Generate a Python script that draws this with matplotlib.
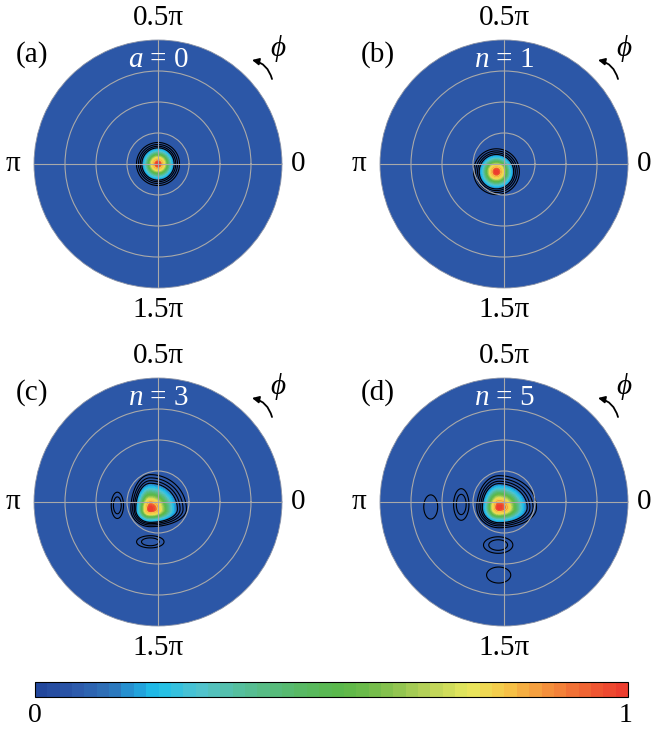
import numpy as np
import matplotlib
matplotlib.use('Agg')
import matplotlib.pyplot as plt
from matplotlib.colors import LinearSegmentedColormap, ListedColormap, BoundaryNorm
from matplotlib.patches import FancyArrowPatch
import matplotlib.colorbar as mcolorbar

plt.rcParams['font.family'] = ['Liberation Serif', 'DejaVu Serif']
plt.rcParams['mathtext.fontset'] = 'custom'
plt.rcParams['mathtext.rm'] = 'Liberation Serif'
plt.rcParams['mathtext.it'] = 'Liberation Serif:italic'

# intensity lobes per panel (disc radius = 1):
# x0, y0, sigma_left, sigma_right, sigma_down, sigma_up, amplitude
lobes_a = [[0.000, 0.000, 0.062, 0.062, 0.062, 0.062, 1.00]]
lobes_b = [[-0.061, -0.062, 0.066, 0.066, 0.066, 0.066, 1.00]]
lobes_c = [[-0.062, -0.059, 0.056, 0.104, 0.050, 0.100, 1.00],
           [-0.328, -0.027, 0.032, 0.032, 0.069, 0.069, 0.065],
           [-0.062, -0.321, 0.072, 0.072, 0.032, 0.032, 0.065]]
lobes_d = [[-0.040, -0.045, 0.064, 0.108, 0.058, 0.092, 1.00],
           [-0.345, -0.020, 0.040, 0.040, 0.083, 0.083, 0.065],
           [-0.591, -0.040, 0.053, 0.053, 0.092, 0.092, 0.035],
           [-0.047, -0.347, 0.077, 0.077, 0.043, 0.043, 0.065],
           [-0.043, -0.589, 0.092, 0.092, 0.061, 0.061, 0.035]]
panel_lobes = [lobes_a, lobes_b, lobes_c, lobes_d]
panel_tags = ['(a)', '(b)', '(c)', '(d)']
panel_titles = [r'$a$ = 0', r'$n$ = 1', r'$n$ = 3', r'$n$ = 5']
theta_labels = ['0', '0.5π', 'π', '1.5π']

# colour map (48 steps)
cmap_pos = [0.00, 0.06, 0.12, 0.16, 0.20, 0.27, 0.35, 0.45, 0.52, 0.58,
            0.66, 0.74, 0.80, 0.86, 0.93, 1.00]
cmap_col = ['#22479c', '#2d5aab', '#2e74ba', '#239bd8', '#1fc0ea', '#51c3cf',
            '#56be98', '#58b962', '#5ab848', '#78bd4c', '#b4d058', '#e9e85e',
            '#f6c647', '#f5993d', '#f06834', '#ed3d2e']
smooth = LinearSegmentedColormap.from_list('jet2', list(zip(cmap_pos, cmap_col)))
n_steps = 48
cmap = ListedColormap(smooth(np.linspace(0, 1, n_steps)))
bounds = np.linspace(0, 1, n_steps + 1)
norm = BoundaryNorm(bounds, n_steps)

bg = '#2c57a7'
grid_col = '#a9a9a9'

W, H = 653, 731
R = 124
centers = [(158, 164), (504, 164), (158, 502), (504, 502)]

fig = plt.figure(figsize=(W / 100, H / 100), dpi=100)


def fpt(px, py):
    return px / W, 1 - py / H


theta = np.linspace(0, 2 * np.pi, 721)
rad = np.linspace(0, 1, 600)
T, RR = np.meshgrid(theta, rad)
X = RR * np.cos(T)
Y = RR * np.sin(T)

for k, (cx, cy) in enumerate(centers):
    Z = np.zeros_like(X)
    for x0, y0, sl, sr, sd, su, amp in panel_lobes[k]:
        dx = X - x0
        dy = Y - y0
        sx = np.where(dx < 0, sl, sr)
        sy = np.where(dy < 0, sd, su)
        Z += amp * np.exp(-(dx ** 2 / (2 * sx ** 2) + dy ** 2 / (2 * sy ** 2)))
    Z = Z / Z.max()

    left, bottom = fpt(cx - R, cy + R)
    ax = fig.add_axes([left, bottom, 2 * R / W, 2 * R / H], projection='polar')
    ax.set_facecolor(bg)
    ax.contourf(T, RR, Z, levels=bounds[6:], cmap=cmap, norm=norm, zorder=1)
    ax.contour(T, RR, Z, levels=[0.02, 0.04, 0.07, 0.11], colors='k', linewidths=0.8, zorder=1.5)
    ax.contour(T, RR, Z, levels=[0.7, 0.78, 0.86], colors='#f3d64c', linewidths=0.6, zorder=1.5)
    ax.set_ylim(0, 1)
    ax.set_rticks([0.25, 0.5, 0.75])
    ax.set_yticklabels([])
    ax.set_thetagrids([0, 90, 180, 270], labels=['', '', '', ''])
    ax.grid(True, color=grid_col, linewidth=0.8)
    ax.spines['polar'].set_edgecolor('#8b93a6')
    ax.spines['polar'].set_linewidth(0.6)

    fs = 21
    fig.text(*fpt(cx + 140, cy), theta_labels[0], fontsize=fs, ha='center', va='center')
    fig.text(*fpt(cx, cy - 146), theta_labels[1], fontsize=fs, ha='center', va='center')
    fig.text(*fpt(cx - 145, cy), theta_labels[2], fontsize=fs, ha='center', va='center')
    fig.text(*fpt(cx, cy + 146), theta_labels[3], fontsize=fs, ha='center', va='center')
    fig.text(*fpt(cx - 126, cy - 109), panel_tags[k], fontsize=fs, ha='center', va='center')
    fig.text(*fpt(cx, cy - 104), panel_titles[k], fontsize=fs, ha='center', va='center', color='white')
    fig.text(*fpt(cx + 120, cy - 115), r'$\phi$', fontsize=fs, ha='center', va='center')
    arr = FancyArrowPatch(fpt(cx + 114, cy - 85), fpt(cx + 94, cy - 104),
                          transform=fig.transFigure, connectionstyle='arc3,rad=0.3',
                          arrowstyle='-|>', mutation_scale=10, lw=1.3, color='k',
                          shrinkA=0, shrinkB=0)
    fig.add_artist(arr)

cl, cb_ = fpt(35, 697)
cax = fig.add_axes([cl, cb_, (628 - 35) / W, 15.5 / H])
cbar = mcolorbar.ColorbarBase(cax, cmap=cmap, norm=norm, orientation='horizontal',
                              ticks=[], drawedges=False)
cbar.minorticks_off()
cax.tick_params(which='both', length=0, labelbottom=False)
cbar.outline.set_linewidth(0.8)
fig.text(*fpt(35, 716), '0', fontsize=20, ha='center', va='center')
fig.text(*fpt(626, 716), '1', fontsize=20, ha='center', va='center')

fig.savefig('out.png', dpi=100)
